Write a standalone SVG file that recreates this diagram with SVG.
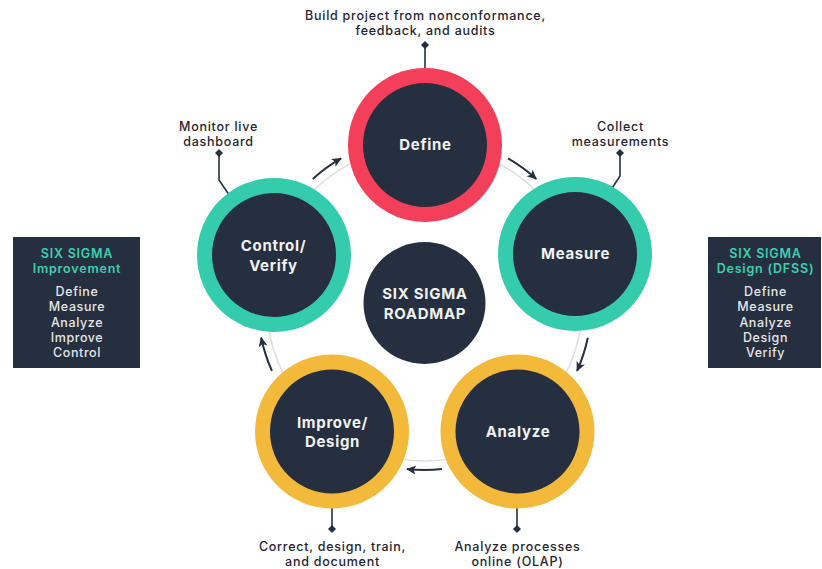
<svg xmlns="http://www.w3.org/2000/svg" width="822" height="569" viewBox="0 0 822 569">
  <defs>
    <style>
      .ring-red { fill: #f43f5a; }
      .ring-teal { fill: #35cbad; }
      .ring-gold { fill: #f2b93b; }
      .core { fill: #252f3f; }
      .label { font-family: Inter, "Noto Sans", sans-serif; font-weight: 700; font-size: 15px; letter-spacing: 0.7px; fill: #f2f2f2; text-anchor: middle; }
      .note { font-family: Inter, "Noto Sans", sans-serif; font-weight: 500; font-size: 12.5px; letter-spacing: 0.75px; fill: #1f2430; text-anchor: middle; }
      .box { fill: #252f3f; }
      .box-title { font-family: Inter, "Noto Sans", sans-serif; font-weight: 600; font-size: 12.5px; letter-spacing: 0.8px; fill: #3dd0b0; text-anchor: middle; }
      .box-item { font-family: Inter, "Noto Sans", sans-serif; font-weight: 500; font-size: 12.5px; letter-spacing: 0.6px; fill: #e6e6e6; text-anchor: middle; }
      .flow { fill: none; stroke: #252f3f; stroke-width: 2; marker-end: url(#head); }
      .leader { fill: none; stroke: #252f3f; stroke-width: 1.6; }
      .dot { fill: #252f3f; }
      .orbit { fill: none; stroke: #dedede; stroke-width: 1.5; }
    </style>
    <marker id="head" viewBox="0 0 10 10" refX="9" refY="5" markerWidth="10" markerHeight="10" markerUnits="userSpaceOnUse" orient="auto">
      <path d="M0,0.5 L10,5 L0,9.5 L2.5,5 z" fill="#252f3f"/>
    </marker>
  </defs>

  <!-- faint orbit joining the five stages -->
  <circle class="orbit" cx="424.5" cy="303" r="158"/>

  <!-- flow arrows around the cycle -->
  <g id="connectors">
    <path class="flow" d="M508,158.4 A167,167 0 0 1 536.2,178.9"/>
    <path class="flow" d="M587.8,337.7 A167,167 0 0 1 577.1,370.9"/>
    <path class="flow" d="M442,469.1 A167,167 0 0 1 407,469.1"/>
    <path class="flow" d="M271.9,370.9 A167,167 0 0 1 261.2,337.7"/>
    <path class="flow" d="M312.8,178.9 A167,167 0 0 1 341,158.4"/>

    <!-- leader lines to the notes -->
    <path class="leader" d="M425,70 V45"/>
    <polygon class="dot" points="425,41 429,45 425,49 421,45"/>
    <path class="leader" d="M605,199 L620,176 V153"/>
    <polygon class="dot" points="620,149 624,153 620,157 616,153"/>
    <path class="leader" d="M236,205 L219,180 V153"/>
    <polygon class="dot" points="219,149 223,153 219,157 215,153"/>
    <path class="leader" d="M332,506 V529"/>
    <polygon class="dot" points="332,525 336,529 332,533 328,529"/>
    <path class="leader" d="M517,506 V529"/>
    <polygon class="dot" points="517,525 521,529 517,533 513,529"/>
  </g>

  <g id="center">
    <circle class="core" cx="424.5" cy="303" r="61"/>
    <text class="label" x="425" y="299">SIX SIGMA</text>
    <text class="label" x="425" y="319">ROADMAP</text>
  </g>

  <g id="define">
    <circle class="ring-red" cx="425" cy="145" r="77"/>
    <circle class="core" cx="425" cy="145" r="62"/>
    <text class="label" x="425.5" y="150">Define</text>
  </g>

  <g id="measure">
    <circle class="ring-teal" cx="575" cy="254" r="77"/>
    <circle class="core" cx="575" cy="254" r="62"/>
    <text class="label" x="575.5" y="259">Measure</text>
  </g>

  <g id="analyze">
    <circle class="ring-gold" cx="517.5" cy="431.5" r="77"/>
    <circle class="core" cx="517.5" cy="431.5" r="62"/>
    <text class="label" x="518" y="437">Analyze</text>
  </g>

  <g id="improve-design">
    <circle class="ring-gold" cx="332" cy="431.5" r="77"/>
    <circle class="core" cx="332" cy="431.5" r="62"/>
    <text class="label" x="332.5" y="428">Improve/</text>
    <text class="label" x="332.5" y="447">Design</text>
  </g>

  <g id="control-verify">
    <circle class="ring-teal" cx="274" cy="255" r="77"/>
    <circle class="core" cx="274" cy="255" r="62"/>
    <text class="label" x="273.5" y="251">Control/</text>
    <text class="label" x="273.5" y="271">Verify</text>
  </g>

  <!-- notes -->
  <g id="note-define">
    <text class="note" x="425.5" y="20">Build project from nonconformance,</text>
    <text class="note" x="425.5" y="35">feedback, and audits</text>
  </g>
  <g id="note-measure">
    <text class="note" x="620.5" y="131">Collect</text>
    <text class="note" x="620.5" y="146">measurements</text>
  </g>
  <g id="note-control">
    <text class="note" x="218.5" y="131">Monitor live</text>
    <text class="note" x="218.5" y="146">dashboard</text>
  </g>
  <g id="note-improve">
    <text class="note" x="332.5" y="551">Correct, design, train,</text>
    <text class="note" x="332.5" y="566">and document</text>
  </g>
  <g id="note-analyze">
    <text class="note" x="517.5" y="551">Analyze processes</text>
    <text class="note" x="517.5" y="566">online (OLAP)</text>
  </g>

  <!-- side panels -->
  <g id="panel-improvement">
    <rect class="box" x="13" y="237" width="127" height="131"/>
    <text class="box-title" x="77" y="258">SIX SIGMA</text>
    <text class="box-title" x="77" y="273">Improvement</text>
    <text class="box-item" x="77" y="296">Define</text>
    <text class="box-item" x="77" y="311">Measure</text>
    <text class="box-item" x="77" y="327">Analyze</text>
    <text class="box-item" x="77" y="342">Improve</text>
    <text class="box-item" x="77" y="357">Control</text>
  </g>
  <g id="panel-design">
    <rect class="box" x="708" y="237" width="113" height="131"/>
    <text class="box-title" x="765.5" y="258">SIX SIGMA</text>
    <text class="box-title" x="765.5" y="273">Design (DFSS)</text>
    <text class="box-item" x="765.5" y="296">Define</text>
    <text class="box-item" x="765.5" y="311">Measure</text>
    <text class="box-item" x="765.5" y="327">Analyze</text>
    <text class="box-item" x="765.5" y="342">Design</text>
    <text class="box-item" x="765.5" y="357">Verify</text>
  </g>
</svg>
